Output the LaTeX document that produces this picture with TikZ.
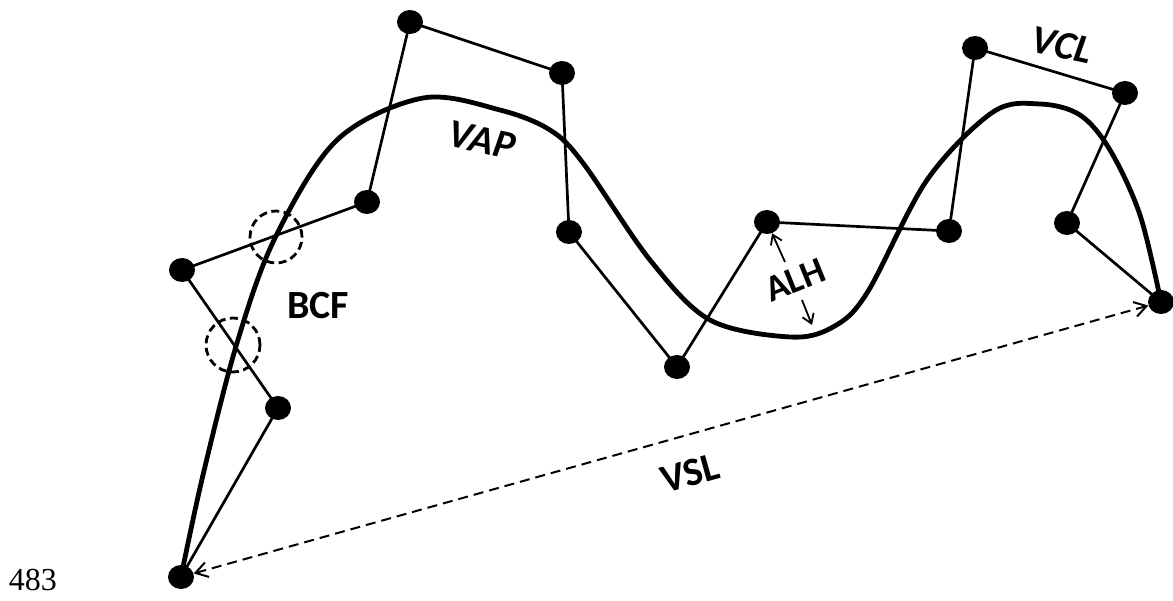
\documentclass[tikz,border=0pt]{standalone}
\usepackage{fontspec}
\setmainfont{Carlito}
\newfontfamily\seriffont{Liberation Serif}
\usetikzlibrary{shapes.geometric,arrows.meta}
\tikzset{
  dot/.style={ellipse,fill=black,minimum width=26pt,minimum height=24pt,inner sep=0pt},
  seg/.style={line width=2.7pt},
  vap/.style={line width=4.8pt,line cap=round},
  ring/.style={line width=2.8pt,dash pattern=on 8pt off 4.5pt},
  vsl/.style={line width=2pt,dash pattern=on 10pt off 6pt,{Straight Barb[length=12pt,width=15pt,line width=2pt]}-{Straight Barb[length=12pt,width=15pt,line width=2pt]}},
  alh/.style={line width=1.8pt,-{Straight Barb[length=9pt,width=12pt,line width=1.8pt]}},
  lbl/.style={font=\bfseries\fontsize{40}{44}\selectfont,inner sep=0pt},
  ilbl/.style={font=\bfseries\itshape\fontsize{40}{44}\selectfont,inner sep=0pt}
}
\begin{document}
\begin{tikzpicture}[x=1pt,y=-1pt]
\useasboundingbox (0,0) rectangle (1173,601);
% dots
\node[dot] (p0) at (181,577) {};
\node[dot] (p1) at (278,408) {};
\node[dot] (p2) at (182,270) {};
\node[dot] (p3) at (367,202) {};
\node[dot] (p4) at (410,22) {};
\node[dot] (p5) at (562,73) {};
\node[dot] (p6) at (569,232) {};
\node[dot] (p7) at (677,367) {};
\node[dot] (p8) at (767,222) {};
\node[dot] (p9) at (949,231) {};
\node[dot] (p10) at (975,48) {};
\node[dot] (p11) at (1125,93) {};
\node[dot] (p12) at (1067,223) {};
\node[dot] (p13) at (1161,302) {};
% polyline
\draw[seg] (p0.center) -- (p1.center) -- (p2.center) -- (p3.center) -- (p4.center)
  -- (p5.center) -- (p6.center) -- (p7.center) -- (p8.center) -- (p9.center)
  -- (p10.center) -- (p11.center) -- (p12.center) -- (p13.center);
% VAP curve
\draw[vap] plot[smooth,tension=0.55] coordinates {(181,577) (203,475) (237,343) (275,238) (337,140) (423,98) (500,110) (550,130) (583,163) (650,260) (710,320) (790,337) (833,327) (867,293) (927,180) (993,112) (1040,104) (1080,115) (1110,150) (1140,215) (1161,302)};
% dashed circles
\node[ring,draw,circle,minimum size=52pt,inner sep=0pt] (c1) at (276,237) {};
\node[ring,draw,circle,minimum size=54pt,inner sep=0pt] (c2) at (233,345) {};
% VSL arrow
\draw[vsl] (p0) -- (p13);
% ALH arrows
\coordinate (a1) at (785,262);
\coordinate (a2) at (802,300);
\coordinate (a3) at (812,325);
\draw[alh] (a1) -- (p8);
\draw[alh] (a2) -- (a3);
% labels
\node[ilbl,rotate=-12] (tvap) at (482,140) {VAP};
\node[ilbl,rotate=-12] (tvcl) at (1062,45) {VCL};
\node[lbl] (tbcf) at (318,306) {BCF};
\node[lbl,rotate=22,font=\bfseries\fontsize{37}{40}\selectfont] (talh) at (795,280) {ALH};
\node[lbl,rotate=15.6] (tvsl) at (690,473) {VSL};
\node[font=\seriffont\fontsize{32}{36}\selectfont,inner sep=0pt,anchor=base] (num) at (33,590) {483};
\end{tikzpicture}
\end{document}
